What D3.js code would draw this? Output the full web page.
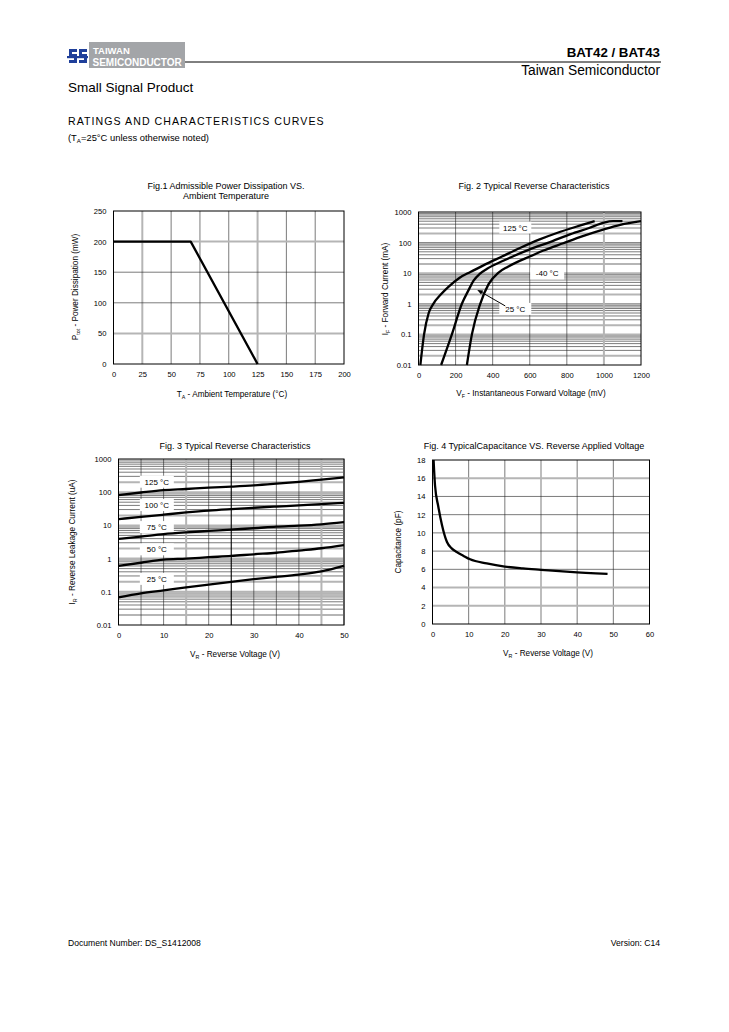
<!DOCTYPE html>
<html>
<head>
<meta charset="utf-8">
<script src="https://cdn.jsdelivr.net/npm/d3@7"></script>
<style>
  body { margin: 0; background: #fff; }
  svg { font-family: "Liberation Sans", Arial, sans-serif; }
</style>
</head>
<body>
<svg id="page" width="729" height="1032"></svg>
<script>
// ---- data ----

// Fig.1 power derating
var fig1Temp = [0, 67, 125];
var fig1Power = [200, 200, 0];
var fig1XTicks = [0, 25, 50, 75, 100, 125, 150, 175, 200];
var fig1YTicks = [0, 50, 100, 150, 200, 250];

// Fig.2 forward characteristics (mV, mA)
var fig2V125 = [10, 30, 55, 80, 120, 160, 220, 280, 350, 450, 550, 650, 750, 850, 950];
var fig2I125 = [0.01, 0.1, 0.5, 1, 2, 3.5, 7, 11, 18, 35, 68, 125, 210, 330, 500];
var fig2V25 = [122, 180, 234, 270, 297, 330, 370, 460, 600, 720, 820, 920, 1000, 1050, 1100];
var fig2I25 = [0.01, 0.1, 1, 2.8, 5.7, 9.5, 14, 26, 60, 110, 190, 300, 450, 500, 500];
var fig2Vm40 = [261, 288, 333, 378, 432, 480, 531, 600, 674, 780, 890, 1000, 1088, 1200];
var fig2Im40 = [0.01, 0.1, 1, 4.4, 10.5, 16, 23, 35, 55, 95, 165, 270, 380, 500];
var fig2XTicks = [0, 200, 400, 600, 800, 1000, 1200];
var fig2YTicks = [0.01, 0.1, 1, 10, 100, 1000];

// Fig.3 reverse leakage (V, uA)
var fig3V = [0, 5, 10, 15, 20, 25, 30, 35, 40, 45, 50];
var fig3I125 = [82, 98, 115, 125, 137, 147, 160, 180, 205, 240, 280];
var fig3I100 = [15.5, 18, 21, 24.5, 28, 31, 34, 37, 40, 44, 48];
var fig3I75 = [3.9, 4.6, 5.5, 6.2, 6.8, 7.5, 8.2, 9.2, 9.8, 10.8, 12.5];
var fig3I50 = [0.6, 0.75, 0.93, 1.0, 1.1, 1.2, 1.35, 1.5, 1.75, 2.05, 2.55];
var fig3I25 = [0.068, 0.09, 0.11, 0.135, 0.165, 0.2, 0.24, 0.28, 0.33, 0.41, 0.6];
var fig3XTicks = [0, 10, 20, 30, 40, 50];
var fig3YTicks = [0.01, 0.1, 1, 10, 100, 1000];
var fig3Labels = ["125 °C", "100 °C", "75 °C", "50 °C", "25 °C"];
var fig3LabelI = [207, 41, 8.9, 1.9, 0.245];

// Fig.4 capacitance (V, pF)
var fig4V = [0.3, 0.7, 1.6, 2.6, 4, 5.3, 6.7, 8.5, 10.4, 15, 20, 25, 30, 38, 48.4];
var fig4C = [18, 15.2, 12.9, 10.9, 9.0, 8.3, 7.9, 7.5, 7.1, 6.65, 6.3, 6.1, 5.95, 5.72, 5.5];
var fig4XTicks = [0, 10, 20, 30, 40, 50, 60];
var fig4YTicks = [0, 2, 4, 6, 8, 10, 12, 14, 16, 18];

var svg = d3.select("#page");
var GRAY = "#b5b5b5";
var TICK = 7.6, LAB = 8.2, TITLE = 9;

// text with optional subscript pieces: parts = [[str, isSub], ...]
function richText(sel, parts, size) {
  var prevSub = false;
  parts.forEach(function(p) {
    var t = sel.append("tspan").text(p[0]);
    if (p[1]) { t.attr("font-size", size * 0.65).attr("dy", 2); prevSub = true; }
    else if (prevSub) { t.attr("dy", -2); prevSub = false; }
  });
  return sel;
}

function text(x, y, str, size, anchor, weight) {
  return svg.append("text").attr("x", x).attr("y", y)
    .attr("font-size", size).attr("text-anchor", anchor || "start")
    .attr("font-weight", weight || "normal").attr("fill", "#000").text(str);
}

function gridLine(g, x1, y1, x2, y2, kind) {
  var l = g.append("line").attr("x1", x1).attr("y1", y1).attr("x2", x2).attr("y2", y2);
  if (kind == "gray") l.attr("stroke", GRAY).attr("stroke-width", 2);
  else if (kind == "bold") l.attr("stroke", "#000").attr("stroke-width", 1.1);
  else l.attr("stroke", "#222").attr("stroke-width", 0.6);
}

// common frame: axes text, border
function frame(g, x, y, xTicks, yTicks, fmtY) {
  var r = x.range(), d = y.range();
  g.append("rect").attr("x", r[0]).attr("y", d[1]).attr("width", r[1] - r[0]).attr("height", d[0] - d[1])
    .attr("fill", "none").attr("stroke", "#000").attr("stroke-width", 1);
  var xa = g.append("g").attr("transform", "translate(0," + (d[0] + 11) + ")")
    .call(d3.axisBottom(x).tickValues(xTicks).tickSize(0).tickFormat(d3.format("d")));
  var ya = g.append("g").attr("transform", "translate(" + (r[0] - 7) + ",0)")
    .call(d3.axisLeft(y).tickValues(yTicks).tickSize(0).tickFormat(fmtY || d3.format("d")));
  [xa, ya].forEach(function(a) {
    a.select(".domain").remove();
    a.selectAll("text").attr("font-size", TICK).attr("font-family", "Liberation Sans, Arial, sans-serif").attr("fill", "#000");
  });
  ya.selectAll("text").attr("dy", "0.32em").attr("x", 0);
  xa.selectAll("text").attr("dy", "0.32em").attr("y", 0);
}

function curve(g, xs, ys, x, y, straight) {
  var pts = xs.map(function(v, i) { return [v, ys[i]]; });
  g.append("path").datum(pts)
    .attr("d", d3.line().x(function(d) { return x(d[0]); }).y(function(d) { return y(d[1]); })
      .curve(straight ? d3.curveLinear : d3.curveMonotoneX))
    .attr("fill", "none").attr("stroke", "#000").attr("stroke-width", 2.3).attr("stroke-linejoin", "round");
}

function logGrid(g, x, y, minorKind, decadeKind) {
  var dom = y.domain(), r = x.range();
  for (var e = Math.log10(dom[0]); e < Math.log10(dom[1]); e++) {
    var base = Math.pow(10, e);
    for (var m = 1; m < 10; m++) {
      var v = base * m;
      var kind = m == 1 ? (decadeKind[Math.round(e)] || "thin") : (minorKind[m] || "thin");
      if (m == 1 && e == Math.log10(dom[0])) continue;
      gridLine(g, r[0], y(v), r[1], y(v), kind);
    }
  }
}

function legendBox(g, cx, cy, label, w) {
  g.append("rect").attr("x", cx - w / 2).attr("y", cy - 6).attr("width", w).attr("height", 12).attr("fill", "#fff");
  g.append("text").attr("x", cx).attr("y", cy + 3).attr("text-anchor", "middle").attr("font-size", 8).text(label);
}

// ---- header ----
svg.append("rect").attr("x", 89).attr("y", 42).attr("width", 96).attr("height", 26).attr("fill", "#a3a5a8");
text(93, 54, "TAIWAN", 9.5, "start", "bold").attr("fill", "#fff");
text(92.5, 66, "SEMICONDUCTOR", 10, "start", "bold").attr("fill", "#fff");
svg.append("rect").attr("x", 67).attr("y", 47).attr("width", 21).attr("height", 18).attr("fill", "#fff");
svg.append("path").attr("d", "M69,49 h8 v3 h-5 v2 h5 v9 h-8 v-3 h5 v-2 h-5 z M79,49 h8 v3 h-5 v2 h5 v9 h-8 v-3 h5 v-2 h-5 z")
  .attr("fill", "#1f3f9a");
svg.append("rect").attr("x", 67).attr("y", 56).attr("width", 21).attr("height", 2.2).attr("fill", "#1f3f9a");
svg.append("line").attr("x1", 185).attr("y1", 62).attr("x2", 661).attr("y2", 62).attr("stroke", "#000").attr("stroke-width", 1);
text(660, 57, "BAT42 / BAT43", 13.3, "end", "bold");
text(660, 75, "Taiwan Semiconductor", 13.8, "end");
text(68, 92, "Small Signal Product", 13.5);
text(68, 125, "RATINGS AND CHARACTERISTICS CURVES", 10.6).attr("letter-spacing", 1.05);
richText(svg.append("text").attr("x", 68).attr("y", 141).attr("font-size", 9.4),
  [["(T", 0], ["A", 1], ["=25°C unless otherwise noted)", 0]], 9.4);

// ---- Fig.1 ----
(function() {
  var g = svg.append("g");
  var x = d3.scaleLinear().domain([0, 200]).range([113.5, 344]);
  var y = d3.scaleLinear().domain([0, 250]).range([364, 211]);
  fig1XTicks.slice(1, -1).forEach(function(v) {
    gridLine(g, x(v), y(0), x(v), y(250), (v == 25 || v == 125) ? "gray" : "thin");
  });
  fig1YTicks.slice(1, -1).forEach(function(v) {
    gridLine(g, x(0), y(v), x(200), y(v), (v == 50 || v == 200) ? "gray" : "thin");
  });
  frame(g, x, y, fig1XTicks, fig1YTicks);
  curve(g, fig1Temp, fig1Power, x, y, true);
  text(226, 189, "Fig.1 Admissible Power Dissipation VS.", TITLE, "middle");
  text(226, 199, "Ambient Temperature", TITLE, "middle");
  richText(g.append("text").attr("x", 232).attr("y", 397).attr("font-size", LAB).attr("text-anchor", "middle"),
    [["T", 0], ["A", 1], [" - Ambient Temperature (°C)", 0]], LAB);
  richText(g.append("text").attr("transform", "translate(78,287) rotate(-90)").attr("font-size", LAB).attr("text-anchor", "middle"),
    [["P", 0], ["tot", 1], [" - Power Dissipation (mW)", 0]], LAB);
})();

// ---- Fig.2 ----
(function() {
  var g = svg.append("g");
  var x = d3.scaleLinear().domain([0, 1200]).range([418.5, 641]);
  var y = d3.scaleLog().domain([0.01, 1000]).range([365, 212]);
  logGrid(g, x, y, { 2: "gray", 8: "gray" }, { "-1": "gray", "1": "gray" });
  fig2XTicks.slice(1, -1).forEach(function(v) {
    gridLine(g, x(v), y(0.01), x(v), y(1000), v == 1000 ? "gray" : "thin");
  });
  frame(g, x, y, fig2XTicks, fig2YTicks, function(d) { return String(d); });
  legendBox(g, x(522), y(310), "125 °C", 32);
  legendBox(g, x(694), y(9.8), "-40 °C", 34);
  legendBox(g, x(522), y(0.68), "25 °C", 32);
  curve(g, fig2V125, fig2I125, x, y);
  curve(g, fig2V25, fig2I25, x, y);
  curve(g, fig2Vm40, fig2Im40, x, y);
  // arrow from 25 °C label to its curve
  var ax1 = x(468), ay1 = y(0.85), ax2 = x(317), ay2 = y(2.8);
  g.append("line").attr("x1", ax1).attr("y1", ay1).attr("x2", ax2 + 4).attr("y2", ay2 + 2)
    .attr("stroke", "#000").attr("stroke-width", 1);
  g.append("path").attr("d", "M" + ax2 + "," + ay2 + " l6,0.5 l-2.2,4 z").attr("fill", "#000");
  text(534, 189, "Fig. 2 Typical Reverse Characteristics", TITLE, "middle");
  richText(g.append("text").attr("x", 531).attr("y", 396).attr("font-size", LAB).attr("text-anchor", "middle"),
    [["V", 0], ["F", 1], [" - Instantaneous Forward Voltage (mV)", 0]], LAB);
  richText(g.append("text").attr("transform", "translate(388,289) rotate(-90)").attr("font-size", LAB).attr("text-anchor", "middle"),
    [["I", 0], ["F", 1], [" - Forward Current (mA)", 0]], LAB);
})();

// ---- Fig.3 ----
(function() {
  var g = svg.append("g");
  var x = d3.scaleLinear().domain([0, 50]).range([118.5, 344]);
  var y = d3.scaleLog().domain([0.01, 1000]).range([625, 459]);
  logGrid(g, x, y, { 2: "gray", 9: "gray" }, { "-1": "gray", "0": "gray", "1": "gray", "2": "gray" });
  [5, 10, 15, 20, 25, 30, 35, 40, 45].forEach(function(v) {
    var k = (v == 15 || v == 45) ? "gray" : (v == 25 ? "bold" : "thin");
    gridLine(g, x(v), y(0.01), x(v), y(1000), k);
  });
  gridLine(g, x(50), y(0.01), x(50), y(1000), "gray");
  frame(g, x, y, fig3XTicks, fig3YTicks, function(d) { return String(d); });
  fig3Labels.forEach(function(lb, i) { legendBox(g, x(8.5), y(fig3LabelI[i]), lb, 34); });
  [fig3I125, fig3I100, fig3I75, fig3I50, fig3I25].forEach(function(s) { curve(g, fig3V, s, x, y); });
  text(235, 449, "Fig. 3 Typical Reverse Characteristics", TITLE, "middle");
  richText(g.append("text").attr("x", 235).attr("y", 657).attr("font-size", LAB).attr("text-anchor", "middle"),
    [["V", 0], ["R", 1], [" - Reverse Voltage (V)", 0]], LAB);
  richText(g.append("text").attr("transform", "translate(75,542) rotate(-90)").attr("font-size", LAB).attr("text-anchor", "middle"),
    [["I", 0], ["R", 1], [" - Reverse Leakage Current (uA)", 0]], LAB);
})();

// ---- Fig.4 ----
(function() {
  var g = svg.append("g");
  var x = d3.scaleLinear().domain([0, 60]).range([432.5, 649.5]);
  var y = d3.scaleLinear().domain([0, 18]).range([624, 460]);
  fig4XTicks.slice(1, -1).forEach(function(v) { gridLine(g, x(v), y(0), x(v), y(18), "thin"); });
  fig4YTicks.slice(1, -1).forEach(function(v) {
    gridLine(g, x(0), y(v), x(60), y(v), (v == 2 || v == 4 || v == 16) ? "gray" : "thin");
  });
  frame(g, x, y, fig4XTicks, fig4YTicks);
  curve(g, fig4V, fig4C, x, y);
  text(534, 449, "Fig. 4 TypicalCapacitance VS. Reverse Applied Voltage", TITLE, "middle");
  richText(g.append("text").attr("x", 548).attr("y", 656).attr("font-size", LAB).attr("text-anchor", "middle"),
    [["V", 0], ["R", 1], [" - Reverse Voltage (V)", 0]], LAB);
  g.append("text").attr("transform", "translate(401,542) rotate(-90)").attr("font-size", LAB)
    .attr("text-anchor", "middle").text("Capacitance (pF)");
})();

// ---- footer ----
text(68, 946, "Document Number: DS_S1412008", 8.6);
text(660, 946, "Version: C14", 8.6, "end");
</script>
</body>
</html>
